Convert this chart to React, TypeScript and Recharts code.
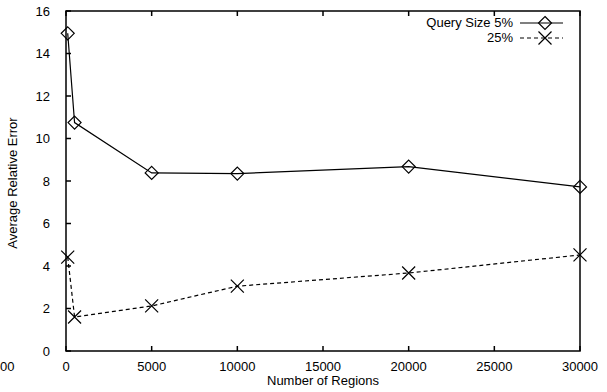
import React from 'react';
import { LineChart, Line, XAxis, YAxis, ReferenceArea } from 'recharts';

const regions = [100, 500, 5000, 10000, 20000, 30000];
const err5 = [14.95, 10.75, 8.38, 8.35, 8.68, 7.72];
const err25 = [4.42, 1.6, 2.12, 3.05, 3.67, 4.52];
const xTicks = [0, 5000, 10000, 15000, 20000, 25000, 30000];
const yTicks = [0, 2, 4, 6, 8, 10, 12, 14, 16];

const data = regions.map((r, i) => ({ r, a: err5[i], b: err25[i] }));

const FONT = '"Liberation Sans", Arial, Helvetica, sans-serif';
const TL = 5;

const Diamond = (p: any) => {
  const { cx, cy } = p;
  if (cx == null || cy == null) return <g key={p.key} />;
  const s = 6.5;
  return (
    <path key={p.key} d={`M${cx},${cy - s}L${cx + s},${cy}L${cx},${cy + s}L${cx - s},${cy}Z`}
      fill="none" stroke="#000" strokeWidth={1.2} />
  );
};

const Cross = (p: any) => {
  const { cx, cy } = p;
  if (cx == null || cy == null) return <g key={p.key} />;
  const s = 6.5;
  return (
    <path key={p.key} d={`M${cx - s},${cy - s}L${cx + s},${cy + s}M${cx - s},${cy + s}L${cx + s},${cy - s}`}
      fill="none" stroke="#000" strokeWidth={1.2} />
  );
};

const BottomTick = (p: any) => (
  <g>
    <path d={`M${p.x},${p.y}V${p.y - TL}`} stroke="#000" strokeWidth={1.5} fill="none" />
    <text x={p.x} y={p.y + 20} textAnchor="middle" fontFamily={FONT} fontSize={13} fill="#000">{p.payload.value}</text>
  </g>
);
const TopTick = (p: any) => (
  <g><path d={`M${p.x},${p.y}V${p.y + TL}`} stroke="#000" strokeWidth={1.5} fill="none" /></g>
);
const LeftTick = (p: any) => (
  <g>
    <path d={`M${p.x},${p.y}H${p.x + TL}`} stroke="#000" strokeWidth={1.5} fill="none" />
    <text x={p.x - 16} y={p.y + 4.5} textAnchor="end" fontFamily={FONT} fontSize={13} fill="#000">{p.payload.value}</text>
  </g>
);
const RightTick = (p: any) => (
  <g><path d={`M${p.x},${p.y}H${p.x - TL}`} stroke="#000" strokeWidth={1.5} fill="none" /></g>
);

export default function App() {
  return (
    <div style={{ position: 'absolute', left: 0, top: 0, width: 607, height: 392, background: '#fff' }}>
      <LineChart width={607} height={392} data={data} margin={{ top: 1, right: 17, bottom: 11, left: 6 }}>
        <XAxis xAxisId="b" dataKey="r" type="number" domain={[0, 30000]} ticks={xTicks} height={30}
          tickSize={0} tickMargin={0} tickLine={false} tick={BottomTick} axisLine={false} />
        <XAxis xAxisId="t" orientation="top" dataKey="r" type="number" domain={[0, 30000]} ticks={xTicks} height={10}
          tickSize={0} tickMargin={0} tickLine={false} tick={TopTick} axisLine={false} />
        <YAxis yAxisId="l" type="number" domain={[0, 16]} ticks={yTicks} width={60}
          tickSize={0} tickMargin={0} tickLine={false} tick={LeftTick} axisLine={false} />
        <YAxis yAxisId="r" orientation="right" type="number" domain={[0, 16]} ticks={yTicks} width={10}
          tickSize={0} tickMargin={0} tickLine={false} tick={RightTick} axisLine={false} />
        <ReferenceArea xAxisId="b" yAxisId="l" x1={0} x2={30000} y1={0} y2={16}
          fill="none" fillOpacity={0} stroke="#000" strokeWidth={1.5} strokeOpacity={1} ifOverflow="visible" />
        <Line xAxisId="b" yAxisId="l" dataKey="a" stroke="#000" strokeWidth={1.2} dot={Diamond}
          activeDot={false} isAnimationActive={false} />
        <Line xAxisId="b" yAxisId="l" dataKey="b" stroke="#000" strokeWidth={1.2} strokeDasharray="4 3" dot={Cross}
          activeDot={false} isAnimationActive={false} />
      </LineChart>
      <svg width={607} height={392} style={{ position: 'absolute', left: 0, top: 0, pointerEvents: 'none' }}>
        <g fontFamily={FONT} fontSize={13} fill="#000">
          <text x={323} y={385} textAnchor="middle">Number of Regions</text>
          <text x={17} y={183} textAnchor="middle" transform="rotate(-90 17 183)">Average Relative Error</text>
          <text x={0} y={371} textAnchor="start">00</text>
          <text x={513} y={27} textAnchor="end">Query Size 5%</text>
          <text x={513} y={42} textAnchor="end">25%</text>
        </g>
        <line x1={520} y1={23} x2={563} y2={23} stroke="#000" strokeWidth={1.2} />
        <Diamond cx={545} cy={23} key="d" />
        <line x1={520} y1={38} x2={563} y2={38} stroke="#000" strokeWidth={1.2} strokeDasharray="4 3" />
        <Cross cx={545} cy={38} key="c" />
      </svg>
    </div>
  );
}
